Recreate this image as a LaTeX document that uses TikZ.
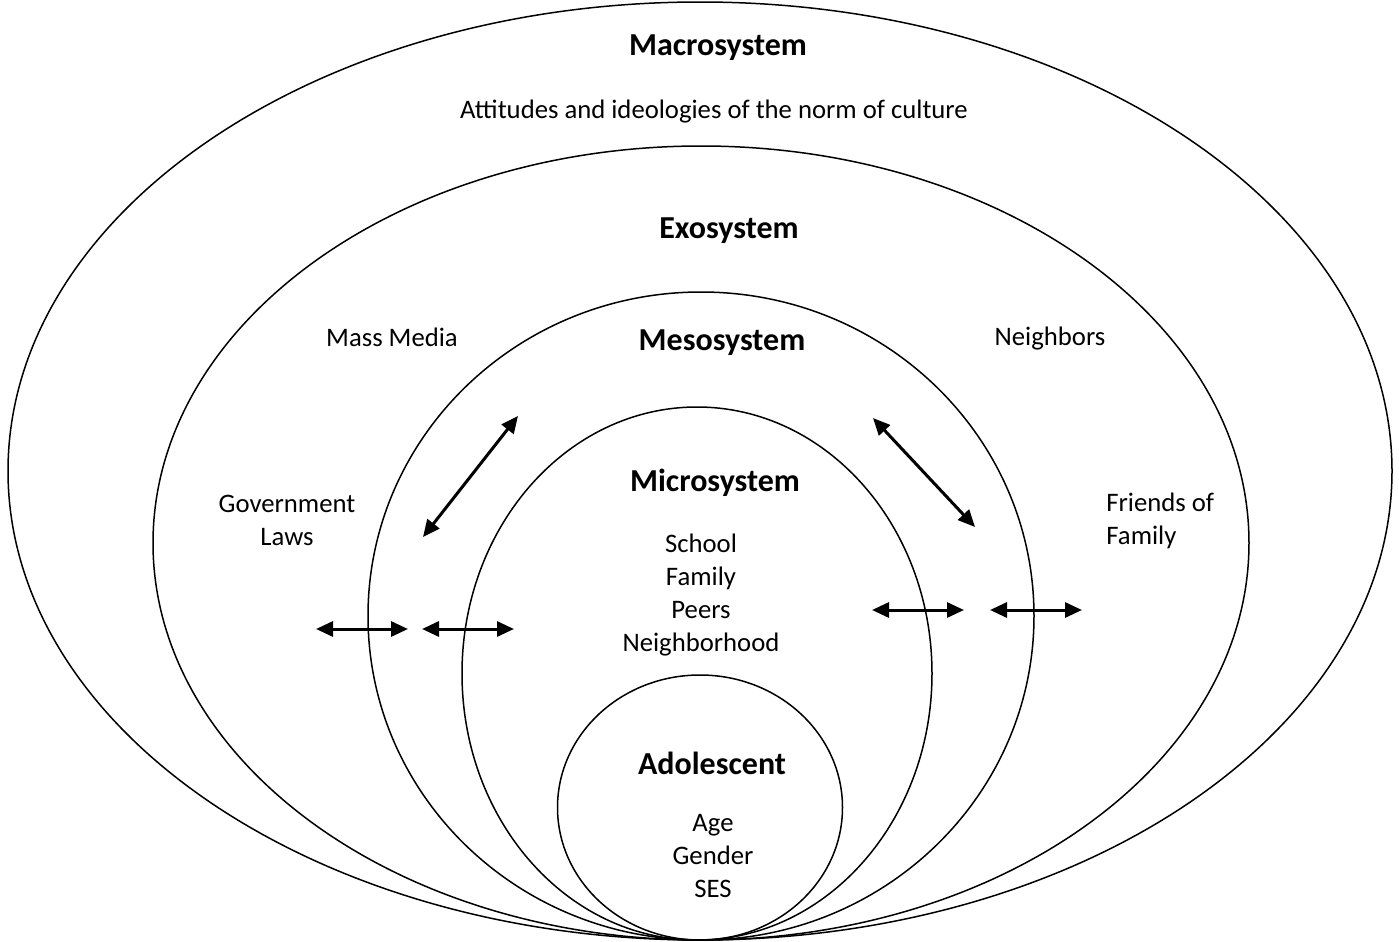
\documentclass[tikz,border=0pt]{standalone}
\usepackage{fontspec}
\setmainfont{Carlito}
\usetikzlibrary{arrows.meta}
\begin{document}
\begin{tikzpicture}[x=0.5pt,y=-0.5pt,
  ring/.style={draw=black,line width=0.75pt},
  txt/.style={inner sep=0pt,align=center,font=\fontsize{13.35}{16.5}\selectfont},
  title/.style={inner sep=0pt,font=\fontsize{16}{18}\selectfont\bfseries},
  link/.style={line width=1.5pt,{Triangle[length=8.5pt,width=7.5pt]}-{Triangle[length=8.5pt,width=7.5pt]}}]
\useasboundingbox (0,0) rectangle (1399,942);
% rings
\draw[ring] (700,471) ellipse [x radius=692, y radius=469];
\draw[ring] (701,543) ellipse [x radius=548, y radius=397];
\draw[ring] (701,616) ellipse [x radius=333, y radius=324];
\draw[ring] (697,673.5) ellipse [x radius=235, y radius=266.5];
\draw[ring] (700,807.5) ellipse [x radius=142.5, y radius=132.5];
% titles
\node[title] (macro) at (718,48) {Macrosystem};
\node[txt] (att) at (714,112) {Attitudes and ideologies of the norm of culture};
\node[title] (exo) at (729,231) {Exosystem};
\node[txt] (media) at (392,337) {Mass Media};
\node[txt] (neigh) at (1050,339) {Neighbors};
\node[title] (meso) at (722,343) {Mesosystem};
\node[txt] (gov) at (287,520.5) {Government\\Laws};
\node[txt,align=left,anchor=west] (friends) at (1106,520.5) {Friends of\\Family};
\node[title] (micro) at (715,483) {Microsystem};
\node[txt] (microitems) at (701,595.5) {School\\Family\\Peers\\Neighborhood};
\node[title] (ado) at (712,763) {Adolescent};
\node[txt] (adoitems) at (713,856.5) {Age\\Gender\\SES};
% arrow end points
\coordinate (l1a) at (423,537); \coordinate (l1b) at (518,416);
\coordinate (r1a) at (873,418); \coordinate (r1b) at (975,527);
\coordinate (h1a) at (316,629); \coordinate (h1b) at (408,629);
\coordinate (h2a) at (422,629); \coordinate (h2b) at (514,629);
\coordinate (h3a) at (872,610); \coordinate (h3b) at (964,610);
\coordinate (h4a) at (990,610); \coordinate (h4b) at (1082,610);
\draw[link] (l1a) -- (l1b);
\draw[link] (r1a) -- (r1b);
\draw[link] (h1a) -- (h1b);
\draw[link] (h2a) -- (h2b);
\draw[link] (h3a) -- (h3b);
\draw[link] (h4a) -- (h4b);
\end{tikzpicture}
\end{document}
